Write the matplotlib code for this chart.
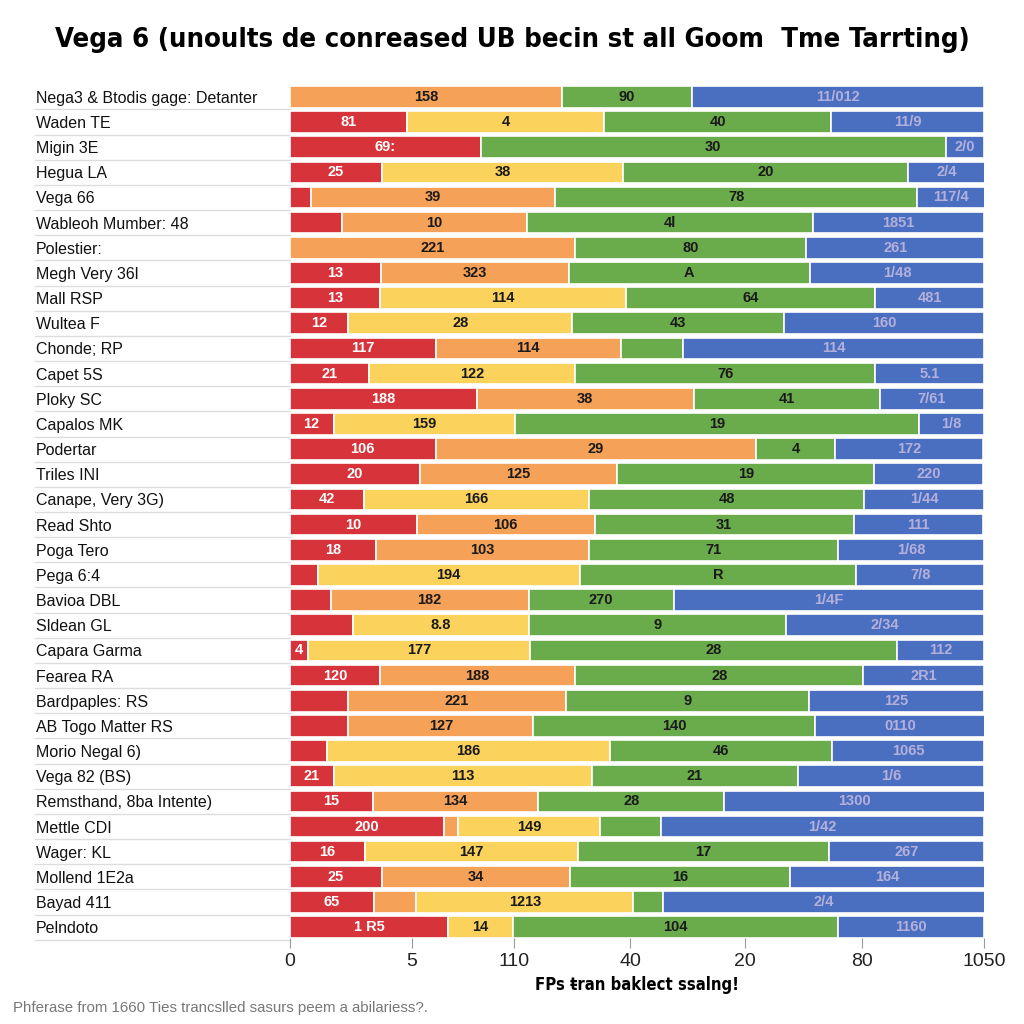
import matplotlib.pyplot as plt
import numpy as np

categories = [
    "Nega3 & Btodis gage: Detanter", "Waden TE", "Migin 3E", "Hegua LA", "Vega 66",
    "Wableoh Mumber: 48", "Polestier:", "Megh Very 36l", "Mall RSP", "Wultea F",
    "Chonde; RP", "Capet 5S", "Ploky SC", "Capalos MK", "Podertar", "Triles INI",
    "Canape, Very 3G)", "Read Shto", "Poga Tero", "Pega 6:4", "Bavioa DBL",
    "Sldean GL", "Capara Garma", "Fearea RA", "Bardpaples: RS", "AB Togo Matter RS",
    "Morio Negal 6)", "Vega 82 (BS)", "Remsthand, 8ba Intente)", "Mettle CDI",
    "Wager: KL", "Mollend 1E2a", "Bayad 411", "Pelndoto",
]

# segment widths (share of the bar)
red = [0, 16.9, 27.5, 13.3, 3.0, 7.5, 0, 13.1, 13.0, 8.4, 21.0, 11.4, 26.9, 6.3, 21.0, 18.7, 10.7,
       18.3, 12.4, 4.0, 5.9, 9.1, 2.6, 13.0, 8.4, 8.4, 5.3, 6.3, 12.0, 22.2, 10.8, 13.3, 12.1, 22.8]
orange = [39.2, 0, 0, 0, 35.2, 26.7, 41.1, 27.1, 0, 0, 26.7, 0, 31.3, 0, 46.1, 28.5, 0,
          25.6, 30.7, 0, 28.5, 0, 0, 28.1, 31.4, 26.7, 0, 0, 23.8, 2.0, 0, 27.1, 6.1, 0]
yellow = [0, 28.4, 0, 34.7, 0, 0, 0, 0, 35.4, 32.3, 0, 29.7, 0, 26.2, 0, 0, 32.4,
          0, 0, 37.8, 0, 25.4, 32.0, 0, 0, 0, 40.8, 37.2, 0, 20.5, 30.7, 0, 31.3, 9.4]
green = [18.7, 32.7, 67.0, 41.1, 52.2, 41.2, 33.3, 34.7, 35.9, 30.5, 8.9, 43.2, 26.8, 58.1, 11.5, 37.0, 39.6,
         37.3, 35.9, 39.8, 20.9, 37.0, 52.9, 41.5, 35.0, 40.6, 32.0, 29.7, 26.8, 8.8, 36.2, 31.7, 4.2, 46.8]
blue = [42.1, 22.0, 5.5, 11.0, 9.7, 24.6, 25.6, 25.1, 15.7, 28.8, 43.4, 15.7, 15.0, 9.4, 21.3, 15.7, 17.3,
        18.7, 21.0, 18.4, 44.7, 28.5, 12.5, 17.4, 25.2, 24.4, 21.9, 26.8, 37.5, 46.5, 22.3, 28.0, 46.4, 21.0]

# numbers printed inside the segments
red_txt = ["", "81", "69:", "25", "", "", "", "13", "13", "12", "117", "21", "188", "12", "106", "20", "42",
           "10", "18", "", "", "", "4", "120", "", "", "", "21", "15", "200", "16", "25", "65", "1 R5"]
orange_txt = ["158", "", "", "", "39", "10", "221", "323", "", "", "114", "", "38", "", "29", "125", "",
              "106", "103", "", "182", "", "", "188", "221", "127", "", "", "134", "", "", "34", "", ""]
yellow_txt = ["", "4", "", "38", "", "", "", "", "114", "28", "", "122", "", "159", "", "", "166",
              "", "", "194", "", "8.8", "177", "", "", "", "186", "113", "", "149", "147", "", "1213", "14"]
green_txt = ["90", "40", "30", "20", "78", "4l", "80", "A", "64", "43", "", "76", "41", "19", "4", "19", "48",
             "31", "71", "R", "270", "9", "28", "28", "9", "140", "46", "21", "28", "", "17", "16", "", "104"]
blue_txt = ["11/012", "11/9", "2/0", "2/4", "117/4", "1851", "261", "1/48", "481", "160", "114", "5.1", "7/61",
            "1/8", "172", "220", "1/44", "111", "1/68", "7/8", "1/4F", "2/34", "112", "2R1", "125", "0110",
            "1065", "1/6", "1300", "1/42", "267", "164", "2/4", "1160"]

xtick_labels = ["0", "5", "110", "40", "20", "80", "1050"]
xtick_pos = [0, 17.6, 32.3, 49.0, 65.6, 82.4, 100]

series = [
    (red, red_txt, "#d6333b", "white"),
    (orange, orange_txt, "#f6a158", "#1a1a1a"),
    (yellow, yellow_txt, "#fbd35c", "#1a1a1a"),
    (green, green_txt, "#6aab4b", "#1a1a1a"),
    (blue, blue_txt, "#4a6fc1", "#b4b0dc"),
]

fig = plt.figure(figsize=(10.24, 10.24), dpi=100)
ax = fig.add_axes([0.283, 0.084, 0.678, 0.832])

y = np.arange(len(categories))
left = np.zeros(len(categories))
for vals, txts, col, tcol in series:
    vals = np.array(vals)
    ax.barh(y, vals, left=left, height=0.86, color=col, edgecolor="white", linewidth=1.2)
    for i, (v, t) in enumerate(zip(vals, txts)):
        if v > 0 and t:
            ax.text(left[i] + v / 2, y[i], t, ha="center", va="center",
                    fontsize=10.5, color=tcol, family="Liberation Sans", fontweight="bold")
    left = left + vals

ax.set_xlim(0, 100)
ax.set_ylim(len(categories) - 1 + 0.43, -0.43)

ax.set_yticks(y, categories)
for lbl in ax.get_yticklabels():
    lbl.set_ha("left")
    lbl.set_family("Liberation Sans")
    lbl.set_fontsize(11.5)
    lbl.set_color("#111111")
ax.tick_params(axis="y", length=0, pad=183)

ax.set_xticks(xtick_pos, xtick_labels)
ax.tick_params(axis="x", length=7, color="#999999", labelsize=14, labelcolor="#222222", pad=4)
for lbl in ax.get_xticklabels():
    lbl.set_family("Liberation Sans")

for s in ax.spines.values():
    s.set_visible(False)

# separator lines under the row labels
trans = ax.get_yaxis_transform()
for i in range(len(categories)):
    ax.plot([-0.367, 0], [i + 0.5, i + 0.5], transform=trans, color="#dddddd",
            linewidth=1.0, clip_on=False, zorder=0)

ax.set_xlabel("FPs ŧran baklect ssalng!", fontsize=12, fontweight="bold",
              fontstretch="condensed", labelpad=4)

fig.text(0.5, 0.961, "Vega 6 (unoults de conreased UB becin st all Goom  Tme Tarrting)",
         ha="center", va="center", fontsize=19.7, fontweight="bold", fontstretch="condensed")
fig.text(0.013, 0.016, "Phferase from 1660 Ties trancslled sasurs peem a abilariess?.",
         ha="left", va="center", fontsize=10.8, color="#777777", family="Liberation Sans")

fig.savefig("out.png", dpi=100, facecolor="white")
